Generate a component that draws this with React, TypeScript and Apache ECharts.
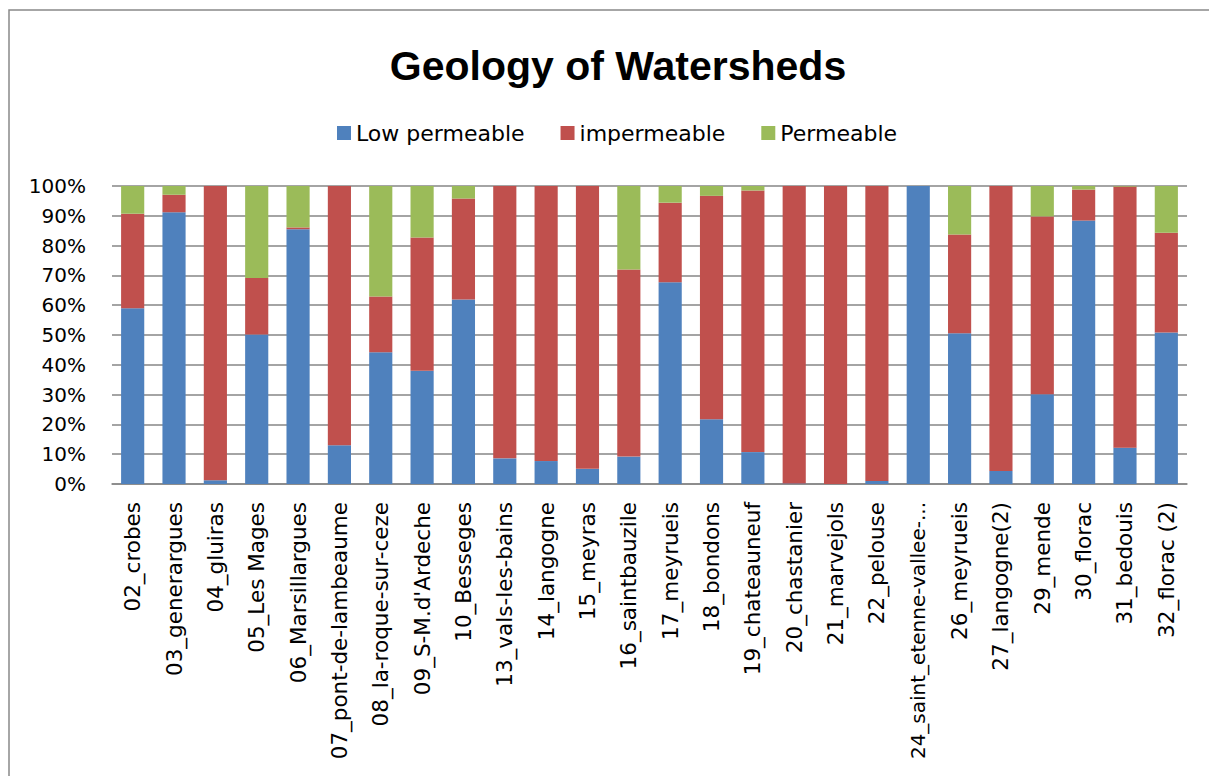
import React, { useEffect, useRef } from "react";
import * as echarts from "echarts";

const categories = [
  "02_crobes",
  "03_generargues",
  "04_gluiras",
  "05_Les Mages",
  "06_Marsillargues",
  "07_pont-de-lambeaume",
  "08_la-roque-sur-ceze",
  "09_S-M.d'Ardeche",
  "10_Besseges",
  "13_vals-les-bains",
  "14_langogne",
  "15_meyras",
  "16_saintbauzile",
  "17_meyrueis",
  "18_bondons",
  "19_chateauneuf",
  "20_chastanier",
  "21_marvejols",
  "22_pelouse",
  "24_saint_etenne-vallee-...",
  "26_meyrueis",
  "27_langogne(2)",
  "29_mende",
  "30_florac",
  "31_bedouis",
  "32_florac (2)",
];

const lowPermeable = [
  59.0, 91.2, 1.3, 50.2, 85.5, 13.0, 44.2, 38.0, 61.9, 8.6, 7.7, 5.1, 9.2,
  67.7, 21.7, 10.7, 0.2, 0, 1.0, 100, 50.6, 4.4, 30.1, 88.4, 12.2, 50.8,
];
const impermeable = [
  31.7, 5.9, 98.7, 18.9, 0.6, 87.0, 18.7, 44.7, 33.9, 91.4, 92.3, 94.9, 62.8,
  26.7, 75.0, 87.8, 99.8, 100, 99.0, 0, 33.1, 95.6, 59.7, 10.4, 87.6, 33.5,
];
const permeable = [
  9.3, 2.9, 0, 30.9, 13.9, 0, 37.1, 17.3, 4.2, 0, 0, 0, 28.0,
  5.6, 3.3, 1.5, 0, 0, 0, 0, 16.3, 0, 10.2, 1.2, 0.2, 15.7,
];

const seriesNames = ["Low permeable", "impermeable", "Permeable"];
const seriesColors = ["#4F81BD", "#C0504D", "#9BBB59"];

export default function App() {
  const ref = useRef<HTMLDivElement>(null);

  useEffect(() => {
    if (!ref.current) return;
    const chart = echarts.init(ref.current, null, { renderer: "svg" });
    const font = "DejaVu Sans";
    const dataSets = [lowPermeable, impermeable, permeable];
    const xData = categories.map((c) =>
      c.length > 24 ? { value: c, textStyle: { fontSize: 20 } } : c
    );
    chart.setOption({
      animation: false,
      backgroundColor: "#ffffff",
      title: {
        text: "Geology of Watersheds",
        left: 613,
        textAlign: "center",
        top: 40,
        textStyle: {
          fontFamily: "Liberation Sans",
          fontSize: 41,
          fontWeight: "bold",
          color: "#000",
        },
      },
      legend: {
        left: 332,
        top: 117,
        icon: "rect",
        itemWidth: 14,
        itemHeight: 14,
        itemGap: 36,
        data: seriesNames,
        textStyle: { fontFamily: font, fontSize: 22, color: "#000" },
      },
      graphic: [
        {
          type: "rect",
          shape: { x: 9, y: 10, width: 1400, height: 1000 },
          style: { fill: "none", stroke: "#898989", lineWidth: 1.5 },
          silent: true,
          z: -10,
        },
      ],
      grid: {
        left: 112,
        right: 22,
        top: 186,
        bottom: 292,
        outerBoundsMode: "none",
        containLabel: false,
      },
      xAxis: {
        type: "category",
        data: xData,
        axisTick: { show: false },
        axisLine: { lineStyle: { color: "#868686", width: 1.5 } },
        axisLabel: {
          rotate: 90,
          interval: 0,
          margin: 18,
          fontFamily: font,
          fontSize: 21.5,
          color: "#000",
        },
      },
      yAxis: {
        type: "value",
        min: 0,
        max: 100,
        interval: 10,
        axisLine: { show: false },
        axisTick: { show: false },
        splitLine: { lineStyle: { color: "#868686", width: 1.5 } },
        axisLabel: {
          formatter: "{value}%",
          margin: 26,
          fontFamily: font,
          fontSize: 20,
          color: "#000",
        },
      },
      series: seriesNames.map((name, i) => ({
        name,
        type: "bar",
        stack: "total",
        barCategoryGap: "44%",
        data: dataSets[i],
        itemStyle: { color: seriesColors[i] },
      })),
    });
    return () => chart.dispose();
  }, []);

  return (
    <div
      ref={ref}
      style={{
        position: "fixed",
        left: 0,
        top: 0,
        width: 1209,
        height: 776,
        background: "#fff",
      }}
    />
  );
}
